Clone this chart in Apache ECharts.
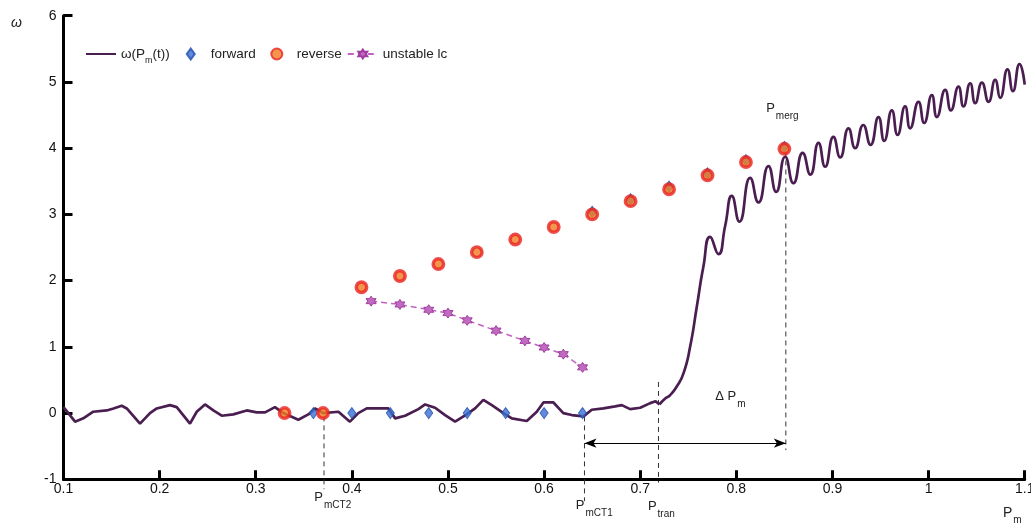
<!DOCTYPE html>
<html>
<head>
<meta charset="utf-8">
<script src="https://cdn.jsdelivr.net/npm/echarts@6/dist/echarts.min.js"></script>
<style>
html,body{margin:0;padding:0;background:#fff;overflow:hidden;}
#c{width:1031px;height:530px;}
</style>
</head>
<body>
<div id="c"></div>
<script>
// ---- data (Pm, omega) ----
const curveLow = [
  [0.100,0.09],[0.105,0.00],[0.112,-0.13],[0.1206,-0.08],[0.131,0.02],[0.145,0.04],[0.152,0.07],
  [0.1606,0.11],[0.1658,0.07],[0.1796,-0.16],[0.190,0.00],[0.197,0.07],[0.2108,0.12],[0.2178,0.09],
  [0.2316,-0.16],[0.2386,0.02],[0.2472,0.13],[0.2559,0.04],[0.2646,-0.04],[0.2767,-0.02],[0.2906,0.04],
  [0.301,0.01],[0.3097,0.01],[0.320,0.09],[0.3287,0.00],[0.3443,-0.10],[0.3547,-0.02],[0.3617,0.07],
  [0.3703,0.00],[0.386,0.02],[0.398,-0.13],[0.4067,0.00],[0.4155,0.07],[0.4259,0.07],[0.438,0.07],
  [0.445,-0.08],[0.4554,-0.04],[0.4692,0.06],[0.4762,0.13],[0.4866,0.08],[0.497,-0.03],[0.5074,-0.13],
  [0.5195,-0.02],[0.5282,0.07],[0.5368,0.20],[0.5456,0.12],[0.5577,0.00],[0.5664,-0.08],[0.582,-0.12],
  [0.5924,0.02],[0.5993,0.16],[0.6097,0.16],[0.620,0.00],[0.6288,-0.03],[0.641,-0.05],[0.6496,0.05],
  [0.6617,0.07],[0.6739,0.10],[0.6808,0.12],[0.6895,0.06],[0.700,0.08],[0.7104,0.15],[0.716,0.18],
  [0.720,0.13]
];
const curveHigh = [
  [0.720,0.13],[0.726,0.22],[0.731,0.27],[0.738,0.40],[0.745,0.60],[0.7519,1.00],[0.7589,1.61],
  [0.7657,2.21],[0.7727,2.66],[0.7814,2.40],[0.7883,2.82],[0.7953,3.28],[0.8032,2.89],[0.8144,3.55],
  [0.823,3.18],[0.8334,3.73],[0.8414,3.34],[0.8508,3.87],[0.8594,3.47],[0.869,3.93],[0.877,3.60],
  [0.8855,4.08],[0.8924,3.72],[0.901,4.17],[0.908,3.86],[0.9167,4.30],[0.9236,4.00],[0.932,4.35],
  [0.9396,4.05],[0.9479,4.47],[0.9538,4.11],[0.9618,4.57],[0.9677,4.20],[0.9756,4.63],[0.9808,4.30],
  [0.9895,4.70],[0.9954,4.38],[1.0034,4.80],[1.0086,4.47],[1.0173,4.88],[1.0232,4.57],[1.0311,4.93],
  [1.0363,4.63],[1.0433,4.98],[1.0485,4.68],[1.0555,4.99],[1.0624,4.70],[1.0693,5.03],[1.0745,4.76],
  [1.0821,5.19],[1.0877,4.86],[1.0946,5.27],[1.100,4.96]
];
const forward = [
  [0.36,0],[0.40,0],[0.44,0],[0.48,0],[0.52,0],[0.56,0],[0.60,0],[0.64,0],
  [0.65,3.04],[0.69,3.23],[0.73,3.42],[0.77,3.62],[0.81,3.82],[0.85,4.02]
];
const reverse = [
  [0.33,0],[0.37,0],[0.41,1.90],[0.45,2.07],[0.49,2.25],[0.53,2.43],[0.57,2.62],
  [0.61,2.81],[0.65,3.00],[0.69,3.20],[0.73,3.38],[0.77,3.59],[0.81,3.79],[0.85,3.99]
];
const unstable = [
  [0.42,1.69],[0.45,1.64],[0.48,1.56],[0.50,1.51],[0.52,1.40],[0.55,1.245],
  [0.58,1.09],[0.60,0.99],[0.62,0.89],[0.64,0.69]
];
// vertical dashed guide lines: [Pm, omega top, omega bottom]
const guides = [
  [0.371,-0.05,-1.15],
  [0.642,-0.05,-1.33],
  [0.719,0.47,-1.05],
  [0.8515,3.95,-0.56]
];
// double arrow: [Pm from, Pm to, omega]
const deltaArrow = [0.642,0.8515,-0.455];
// annotation labels: [Pm, omega, main, subscript]
const annotations = [
  [0.361,-1.27,'P','mCT2'],
  [0.633,-1.39,'P','mCT1'],
  [0.708,-1.41,'P','tran'],
  [0.778,0.25,'Δ P','m'],
  [0.831,4.60,'P','merg']
];
const xTicks = {min:0.1,max:1.1,interval:0.1};
const yTicks = {min:-1,max:6,interval:1};

const FONT = "'Liberation Sans', Arial, Helvetica, sans-serif";
const NAME_CURVE = 'ω(Pm(t))';
const starPath = 'path://M0,-10L2.9,-5L8.66,-5L5.8,0L8.66,5L2.9,5L0,10L-2.9,5L-8.66,5L-5.8,0L-8.66,-5L-2.9,-5Z';
const legendDiamond = 'path://M0,0M30,11M15,0L19,5.5L15,11L11,5.5Z';
const legendCircle = 'path://M0,0M30,11M20.5,5.5A5.5,5.5,0,1,1,9.5,5.5A5.5,5.5,0,1,1,20.5,5.5Z';

const axisCommon = {
  axisLine:{show:true,onZero:false,lineStyle:{color:'#000',width:3}},
  axisTick:{show:true,inside:true,length:9,lineStyle:{color:'#000',width:3}},
  splitLine:{show:false},
  axisLabel:{color:'#111',fontSize:14,fontFamily:FONT}
};

const series = [
  {name:NAME_CURVE,type:'line',data:curveLow,symbol:'none',smooth:false,
   lineStyle:{color:'#4a1e50',width:2.7},itemStyle:{color:'#4a1e50'},z:2},
  {name:NAME_CURVE,type:'line',data:curveHigh,symbol:'none',smooth:0.55,
   lineStyle:{color:'#4a1e50',width:2.7},itemStyle:{color:'#4a1e50'},z:2}
];
guides.forEach(g=>{
  series.push({type:'line',data:[[g[0],g[1]],[g[0],g[2]]],symbol:'none',clip:false,silent:true,
    lineStyle:{color:'#333',width:1,type:[5,4]},z:1});
});
series.push(
  {name:'forward',type:'scatter',data:forward,symbol:'diamond',symbolSize:[8,11],
   itemStyle:{color:'#3b6fd2',borderColor:'#1f4db0',borderWidth:1},z:3},
  {name:'reverse',type:'scatter',data:reverse,symbol:'circle',symbolSize:10.5,
   itemStyle:{color:'#f07a22',borderColor:'#ea2220',borderWidth:3.4},z:4},
  {name:'unstable lc',type:'line',data:unstable,symbol:starPath,symbolSize:10,showSymbol:true,
   lineStyle:{color:'#c262c2',width:1.5,type:[6,4]},
   itemStyle:{color:'#c06ac0',borderColor:'#a03ca0',borderWidth:1},z:3,
   markLine:{silent:true,symbol:['arrow','arrow'],symbolSize:[7,12],
     lineStyle:{color:'#000',width:1,type:'solid'},label:{show:false},
     data:[[{coord:[deltaArrow[0],deltaArrow[2]]},{coord:[deltaArrow[1],deltaArrow[2]]}]]}}
);

const option = {
  animation:false,
  backgroundColor:'#fff',
  grid:{left:63.5,right:6.3,top:15.7,bottom:50.7,containLabel:false,outerBoundsMode:'none'},
  xAxis:Object.assign({type:'value',min:xTicks.min,max:xTicks.max,interval:xTicks.interval},axisCommon,
    {axisLabel:Object.assign({},axisCommon.axisLabel,{margin:3})}),
  yAxis:Object.assign({type:'value',min:yTicks.min,max:yTicks.max,interval:yTicks.interval},axisCommon,
    {axisLabel:Object.assign({},axisCommon.axisLabel,{margin:7})}),
  legend:{
    left:85,top:47,padding:0,itemWidth:30,itemHeight:11,itemGap:5,
    data:[
      {name:NAME_CURVE,itemStyle:{opacity:0}},
      {name:'forward',icon:legendDiamond},
      {name:'reverse',icon:legendCircle},
      'unstable lc'
    ],
    formatter:function(n){return n===NAME_CURVE?'{n|ω(P}{s|m}{n|(t))}':n;},
    textStyle:{fontSize:13.5,color:'#222',fontFamily:FONT,width:47,overflow:'none',
      rich:{n:{fontSize:13.5,color:'#222',fontFamily:FONT},s:{fontSize:9,color:'#222',fontFamily:FONT,padding:[13,0,0,0]}}}
  },
  series:series
};

const chart = echarts.init(document.getElementById('c'));
chart.setOption(option);

const richStyle = {
  p:{fontSize:13,fill:'#222',fontFamily:FONT},
  s:{fontSize:10,fill:'#222',fontFamily:FONT,padding:[16,0,0,1]}
};
const graphics = annotations.map(a=>{
  const pt = chart.convertToPixel({gridIndex:0},[a[0],a[1]]);
  return {type:'text',x:pt[0],y:pt[1],silent:true,
    style:{text:'{p|'+a[2]+'}{s|'+a[3]+'}',rich:richStyle,verticalAlign:'middle',align:'left'}};
});
graphics.push(
  {type:'text',left:11,top:16,silent:true,
   style:{text:'ω',fontSize:14,fontStyle:'italic',fill:'#222',fontFamily:FONT}},
  {type:'text',left:1003,top:506,silent:true,
   style:{text:'{p|P}{s|m}',rich:{p:{fontSize:14,fill:'#222',fontFamily:FONT},s:{fontSize:10,fill:'#222',fontFamily:FONT,padding:[14,0,0,1]}},verticalAlign:'middle'}}
);
chart.setOption({graphic:graphics});
</script>
</body>
</html>
